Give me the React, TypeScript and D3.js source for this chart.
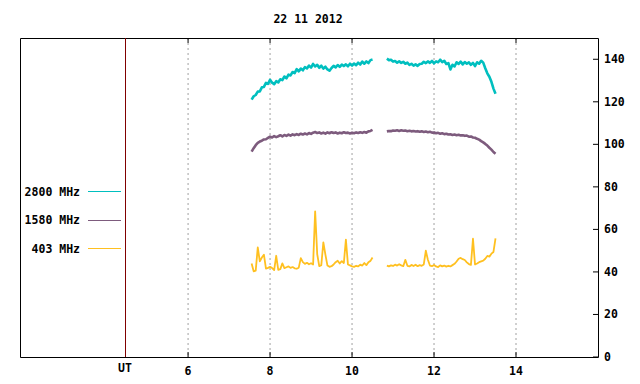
import React from 'react';
import * as d3 from 'd3';

const title = '22 11 2012';

const xTicks = [6, 8, 10, 12, 14];
const yTicks = [0, 20, 40, 60, 80, 100, 120, 140];
const utMark = 4.46;

const seriesNames = ['2800 MHz', '1580 MHz', '403 MHz'];
const seriesColors = ['#00bfbf', '#7d5b7d', '#ffc020'];

const seg1Times = [
  7.55, 7.6, 7.65, 7.7, 7.75, 7.8, 7.85, 7.9, 7.95, 8.0,
  8.05, 8.1, 8.15, 8.2, 8.25, 8.3, 8.35, 8.4, 8.45, 8.5,
  8.55, 8.6, 8.65, 8.7, 8.75, 8.8, 8.85, 8.9, 8.95, 9.0,
  9.05, 9.1, 9.15, 9.2, 9.25, 9.3, 9.35, 9.4, 9.45, 9.5,
  9.55, 9.6, 9.65, 9.7, 9.75, 9.8, 9.85, 9.9, 9.95, 10.0,
  10.05, 10.1, 10.15, 10.2, 10.25, 10.3, 10.35, 10.4, 10.45, 10.5,
];
const seg2Times = [
  10.85, 10.9, 10.95, 11.0, 11.05, 11.1, 11.15, 11.2, 11.25, 11.3,
  11.35, 11.4, 11.45, 11.5, 11.55, 11.6, 11.65, 11.7, 11.75, 11.8,
  11.85, 11.9, 11.95, 12.0, 12.05, 12.1, 12.15, 12.2, 12.25, 12.3,
  12.35, 12.4, 12.45, 12.5, 12.55, 12.6, 12.65, 12.7, 12.75, 12.8,
  12.85, 12.9, 12.95, 13.0, 13.05, 13.1, 13.15, 13.2, 13.25, 13.3,
  13.35, 13.4, 13.45, 13.5,
];

// 2800 MHz
const flux2800a = [
  121.0, 122.6, 123.2, 124.8, 124.9, 126.8, 127.0, 128.9, 128.4, 130.3,
  129.0, 128.3, 129.7, 129.1, 130.6, 130.2, 131.9, 131.0, 132.8, 132.4,
  134.0, 133.5, 135.4, 134.3, 135.6, 134.8, 136.3, 135.7, 137.0, 136.1,
  137.8, 136.6, 137.4, 136.0, 137.0, 135.6, 136.5, 135.2, 134.6, 135.9,
  136.9, 136.2, 137.3, 136.4, 137.5, 136.8, 137.6, 136.7, 137.9, 137.0,
  138.0, 137.2, 138.4, 137.5, 138.9, 137.9, 139.0, 138.2, 139.6, 139.9,
];
const flux2800b = [
  140.3, 139.6, 139.8, 138.9, 139.2, 138.4, 139.0, 138.3, 138.8, 137.9,
  138.4, 137.3, 137.9, 137.0, 137.6, 136.9, 137.8, 137.9, 138.8, 138.2,
  139.0, 138.3, 139.2, 138.1, 139.0, 138.6, 139.8, 138.7, 139.3, 137.8,
  138.2, 135.2, 137.4, 136.6, 138.6, 137.8, 138.9, 137.6, 138.7, 137.9,
  138.5, 137.4, 138.3, 136.8, 138.6, 137.9, 139.3, 138.4, 135.8, 133.4,
  131.8, 129.4, 126.2, 123.8,
];

// 1580 MHz
const flux1580a = [
  96.6, 98.2, 99.6, 100.7, 101.3, 101.7, 102.3, 102.4, 103.0, 103.6,
  103.2, 103.9, 103.4, 103.8, 104.3, 103.7, 104.4, 104.0, 104.6, 104.1,
  104.7, 104.3, 104.8, 104.4, 105.0, 104.6, 105.1, 104.7, 105.3, 104.9,
  105.5, 105.8, 105.3, 105.6, 105.1, 105.5, 105.0, 105.6, 105.2, 105.7,
  105.3, 105.6, 105.1, 105.5, 105.2, 105.7, 105.3, 105.5, 105.1, 105.5,
  105.2, 105.6, 105.3, 105.7, 105.4, 105.8, 105.5, 106.1, 106.3, 106.8,
];
const flux1580b = [
  106.1, 106.3, 106.2, 106.5, 106.4, 106.6, 106.3, 106.6, 106.4, 106.5,
  106.2, 106.4, 106.1, 106.3, 106.0, 106.2, 105.9, 106.1, 105.8, 106.0,
  105.7, 105.9, 105.5, 105.6, 105.2, 105.4, 105.0, 105.2, 104.8, 105.0,
  104.6, 104.7, 104.4, 104.6, 104.3, 104.5, 104.2, 104.3, 104.0, 104.1,
  103.6, 103.7, 103.2, 103.1, 102.6, 102.2, 101.5, 100.9, 100.2, 99.4,
  98.4, 97.5, 96.4, 95.6,
];

// 403 MHz
const flux403a = [
  44.0, 40.3, 40.6, 51.5, 45.0, 46.8, 48.1, 41.6, 41.9, 42.4,
  41.8, 40.9, 47.6, 41.0, 41.3, 44.0, 41.8, 42.2, 42.6, 41.9,
  42.3, 41.7, 41.5, 42.0, 46.5, 44.6, 43.8, 44.3, 43.6, 44.1,
  43.5, 68.5, 48.4, 42.7, 43.2, 53.9, 48.1, 43.0, 42.4, 42.7,
  43.5, 44.6, 45.3, 44.0, 45.1, 44.2, 55.2, 43.5, 43.1, 42.6,
  42.4, 42.9, 42.6, 43.4, 43.0, 44.2, 43.2, 44.6, 45.2, 46.8,
];
const flux403b = [
  43.0, 42.6, 43.1, 42.8, 43.4, 43.0, 43.6, 43.1, 42.7, 45.7,
  42.9, 42.6, 43.3, 42.8, 43.4, 42.7, 43.2, 42.9, 43.5, 50.0,
  45.7, 43.0, 42.7, 43.3, 42.6, 42.3, 43.1, 42.6, 43.0, 42.5,
  42.9, 42.6, 43.2, 43.8, 44.9, 46.2, 46.6, 46.0, 45.6, 44.5,
  43.7, 43.3, 55.6, 43.5, 44.0, 44.6, 45.0, 45.3, 46.2, 47.5,
  47.2, 48.6, 49.4, 55.8,
];

// legend row positions, in flux units
const legendRows = [78.05, 64.65, 51.25];

const W = 640;
const H = 384;
const left = 20;
const right = 598;
const top = 38;
const bottom = 357;
const font = '"DejaVu Sans Mono", "Liberation Mono", monospace';

const App: React.FC = () => {
  const x = d3.scaleLinear().domain([1.9, 16]).range([left, right]);
  const y = d3.scaleLinear().domain([0, 150]).range([bottom, top]);

  const line = d3
    .line<[number, number]>()
    .x((d) => x(d[0]))
    .y((d) => y(d[1]));

  const pair = (times: number[], vals: number[]) =>
    times.map((t, i) => [t, vals[i]] as [number, number]);

  const series = [
    [pair(seg1Times, flux2800a), pair(seg2Times, flux2800b)],
    [pair(seg1Times, flux1580a), pair(seg2Times, flux1580b)],
    [pair(seg1Times, flux403a), pair(seg2Times, flux403b)],
  ];
  // yellow first, cyan on top
  const drawOrder = [2, 1, 0];
  const widths = [2.6, 2.6, 1.8];

  return (
    <svg
      width={W}
      height={H}
      style={{ position: 'absolute', left: 0, top: 0, background: '#fff' }}
      fontFamily={font}
      fontWeight="bold"
      fontSize={11.5}
    >
      {/* grid */}
      {xTicks.map((t) => (
        <line
          key={'g' + t}
          x1={x(t)}
          x2={x(t)}
          y1={top}
          y2={bottom}
          stroke="#a0a0a0"
          strokeDasharray="2,3"
        />
      ))}
      {/* frame */}
      <path
        d={`M${left + 0.5},${top + 0.5}H${right + 0.5}V${bottom + 0.5}H${left + 0.5}Z`}
        fill="none"
        stroke="#000"
        strokeWidth={1}
      />
      {xTicks.map((t) => (
        <g key={'t' + t}>
          <line x1={x(t)} x2={x(t)} y1={bottom} y2={bottom - 5} stroke="#000" />
          <line x1={x(t)} x2={x(t)} y1={top} y2={top + 5} stroke="#000" />
          <text x={x(t)} y={375} textAnchor="middle" fill="#000">
            {t}
          </text>
        </g>
      ))}
      {yTicks.map((v) => (
        <g key={'y' + v}>
          <line x1={right - 5} x2={right} y1={y(v)} y2={y(v)} stroke="#000" />
          <text x={604} y={y(v) + 4} fill="#000">
            {v}
          </text>
        </g>
      ))}
      {/* UT marker */}
      <line
        x1={Math.round(x(utMark)) + 0.5}
        x2={Math.round(x(utMark)) + 0.5}
        y1={top}
        y2={bottom}
        stroke="#800000"
      />
      <text x={x(utMark)} y={372} textAnchor="middle" fill="#000">
        UT
      </text>
      {/* title */}
      <text x={308} y={23} textAnchor="middle" fill="#000">
        {title}
      </text>
      {/* data */}
      {drawOrder.map((si) =>
        series[si].map((seg, k) => (
          <path
            key={si + '-' + k}
            d={line(seg) || ''}
            fill="none"
            stroke={seriesColors[si]}
            strokeWidth={widths[si]}
            strokeLinejoin="round"
          />
        ))
      )}
      {/* legend */}
      {seriesNames.map((name, i) => (
        <g key={name}>
          <text x={80} y={y(legendRows[i]) + 4.5} textAnchor="end" fill="#000">
            {name}
          </text>
          <line
            x1={88}
            x2={121}
            y1={Math.round(y(legendRows[i])) + 0.5}
            y2={Math.round(y(legendRows[i])) + 0.5}
            stroke={seriesColors[i]}
            strokeWidth={1.2}
          />
        </g>
      ))}
    </svg>
  );
};

export default App;
